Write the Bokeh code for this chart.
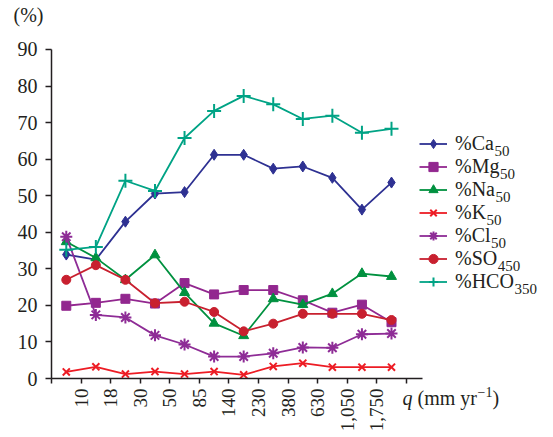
import numpy as np
from bokeh.plotting import figure
from bokeh.models import Range1d, FixedTicker, Legend, LegendItem, Label
from bokeh.embed import file_html
from bokeh.resources import INLINE

# ---- data ----
bin_edges = ["", "10", "18", "30", "50", "85", "140", "230", "380", "630", "1,050", "1,750", ""]
ca = [33.9, 32.5, 42.9, 50.6, 51.0, 61.2, 61.2, 57.4, 58.0, 54.9, 46.2, 53.6]
mg = [19.9, 20.7, 21.8, 20.5, 26.1, 23.0, 24.2, 24.2, 21.4, 18.0, 20.2, 15.4]
na = [37.4, 33.0, 27.0, 33.8, 23.5, 15.1, 11.7, 21.8, 20.2, 23.2, 28.7, 27.9]
k = [1.8, 3.2, 1.2, 1.9, 1.2, 1.9, 1.0, 3.3, 4.2, 3.1, 3.1, 3.1]
cl = [38.8, 17.4, 16.7, 11.8, 9.3, 6.0, 6.0, 6.9, 8.5, 8.4, 12.1, 12.3]
so4 = [27.0, 31.0, 27.0, 20.6, 21.0, 18.2, 12.9, 15.0, 17.7, 17.7, 17.7, 16.0]
hco3 = [35.2, 36.0, 54.1, 51.3, 65.8, 73.2, 77.3, 75.0, 71.0, 71.9, 67.2, 68.3]
y_ticks = [0, 10, 20, 30, 40, 50, 60, 70, 80, 90]

names = ["%Ca", "%Mg", "%Na", "%K", "%Cl", "%SO", "%HCO"]
subs = ["50", "50", "50", "50", "50", "450", "350"]
series = [ca, mg, na, k, cl, so4, hco3]
colors = ["#2e3192", "#92278f", "#00913f", "#ed1c24", "#8e2c96", "#c8202f", "#00a385"]
markers = ["diamond", "square", "triangle", "x", "asterisk", "circle", "cross"]
msizes = [11, 9, 10, 10, 12, 9, 14]

FONT = "Liberation Serif"
INK = "#231f20"

# ---- layout (pixels) ----
W, H = 545, 431
X0_PX, Y0_PX = 51, 378          # canvas position of data origin
PX_PER_X = 29.565                # px per category slot
PX_PER_Y = 3.6556                # px per percent
X_AXIS_END = 12.55

x = np.arange(len(ca)) + 0.5

p = figure(width=W, height=H, output_backend="svg", toolbar_location=None,
           x_range=Range1d(-X0_PX / PX_PER_X, (W - X0_PX) / PX_PER_X),
           y_range=Range1d(-(H - Y0_PX) / PX_PER_Y, Y0_PX / PX_PER_Y),
           min_border=0)
p.grid.visible = False
p.outline_line_color = None
p.background_fill_color = "white"

for ax in (p.xaxis[0], p.yaxis[0]):
    ax.axis_line_color = INK
    ax.axis_line_width = 1.5
    ax.major_tick_line_color = INK
    ax.major_tick_line_width = 1.5
    ax.major_tick_in = 0
    ax.minor_tick_line_color = None
    ax.major_label_text_font = FONT
    ax.major_label_text_color = INK

p.xaxis.fixed_location = 0
p.xaxis.bounds = (0, X_AXIS_END)
p.xaxis.ticker = FixedTicker(ticks=list(range(len(bin_edges))))
p.xaxis.major_label_overrides = {i: lab for i, lab in enumerate(bin_edges)}
p.xaxis.major_label_orientation = np.pi / 2
p.xaxis.major_tick_out = 5
p.xaxis.major_label_standoff = 5
p.xaxis.major_label_text_font_size = "19px"
p.xaxis.major_label_text_baseline = "alphabetic"

p.yaxis.fixed_location = 0
p.yaxis.bounds = (0, 90)
p.yaxis.ticker = FixedTicker(ticks=y_ticks)
p.yaxis.major_tick_out = 6
p.yaxis.major_label_standoff = 8
p.yaxis.major_label_text_font_size = "20px"

items = []
for nm, ys, c, m, s in zip(names, series, colors, markers, msizes):
    lr = p.line(x, ys, line_color=c, line_width=1.8)
    sr = p.scatter(x, ys, marker=m, size=s, fill_color=c, line_color=c,
                   line_width=2 if m in ("x", "asterisk", "cross") else 1)
    items.append(LegendItem(label=nm, renderers=[lr, sr]))

ROW_H = 23
LEG_TOP = 132
legend = Legend(items=items, location=(419, H - LEG_TOP - ROW_H * len(items)),
                orientation="vertical",
                glyph_width=28, glyph_height=ROW_H, label_height=ROW_H, spacing=0,
                padding=0, margin=0, label_standoff=8,
                border_line_alpha=0, background_fill_alpha=0,
                label_text_font=FONT, label_text_font_size="20px", label_text_color=INK)
p.add_layout(legend)


def txt(t, px, base_py, size=20, style="normal"):
    # place text by its baseline (canvas px from top), using a middle anchor
    mid_py = base_py - 0.3375 * size
    p.add_layout(Label(x=px, y=H - mid_py, x_units="screen", y_units="screen", text=t,
                       text_font=FONT, text_font_size=f"{size}px", text_font_style=style,
                       text_color=INK, text_baseline="middle", text_align="left"))


# subscripts of legend labels
cw = {"%": 0.833, "C": 0.667, "a": 0.444, "M": 0.889, "g": 0.5, "N": 0.722, "K": 0.722,
      "l": 0.278, "S": 0.556, "O": 0.722, "H": 0.722}
label_x0 = 419 + 28 + 8
for i, (nm, sb) in enumerate(zip(names, subs)):
    w = sum(cw[ch] for ch in nm) * 20
    row_c = LEG_TOP + ROW_H * (i + 0.5)
    txt(sb, label_x0 + w, row_c + 12, size=15)

# axis titles
txt("(%)", 13, 21)
txt("q", 402, 404, style="italic")
txt("(mm yr", 417, 404)
txt("\u22121", 477, 396, size=14)
txt(")", 492, 404)

open("out.html", "w").write(file_html(p, INLINE))
